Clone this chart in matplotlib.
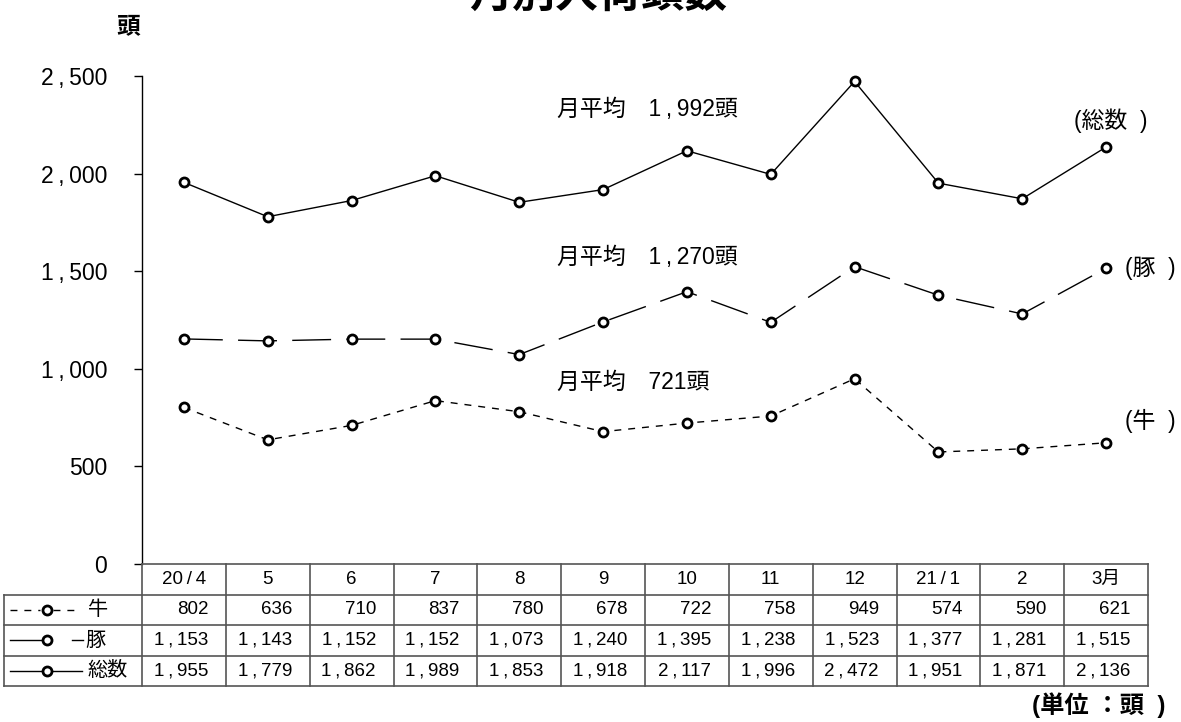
import matplotlib
matplotlib.use("Agg")
import matplotlib.pyplot as plt
from matplotlib.lines import Line2D

plt.rcParams["font.family"] = ["Liberation Sans", "Noto Sans CJK JP"]

months = ["20/4", "5", "6", "7", "8", "9", "10", "11", "12", "21/1", "2", "3月"]
cattle = [802, 636, 710, 837, 780, 678, 722, 758, 949, 574, 590, 621]
pigs = [1153, 1143, 1152, 1152, 1073, 1240, 1395, 1238, 1523, 1377, 1281, 1515]
total = [1955, 1779, 1862, 1989, 1853, 1918, 2117, 1996, 2472, 1951, 1871, 2136]
row_names = ["牛", "豚", "総数"]
averages = [("月平均　1,992頭", 2330), ("月平均　1,270頭", 1570), ("月平均　721頭", 930)]
yticks = [0, 500, 1000, 1500, 2000, 2500]

W, H = 1181, 722
fig = plt.figure(figsize=(W / 100, H / 100), dpi=100)

# pixel layout
x_left, x_right = 142, 1148
y_top, y_axis, y_tbl = 76, 564, 686
col_w = (x_right - x_left) / len(months)


def fx(px):
    return px / W


def fy(py):
    return 1 - py / H


def sp(s):
    # wide comma / slash like the original
    return s.replace(",", "\u2009,\u2009").replace("/", "\u2009/\u2009")


ax = fig.add_axes([fx(x_left), fy(y_axis), fx(x_right - x_left), (y_axis - y_top) / H])
x = list(range(len(months)))
mk = dict(marker="o", ms=6.5, mfc="white", mec="black", mew=2.0, color="black", lw=1.0)
ax.plot(x, cattle, dashes=(5, 5), clip_on=False, **mk)
ax.plot(x, pigs, dashes=(28, 11), clip_on=False, **mk)
ax.plot(x, total, ls="-", clip_on=False, **mk)

ax.set_xlim(-0.5, len(months) - 0.5)
ax.set_ylim(0, 2500)
ax.set_yticks(yticks)
ax.set_yticklabels([sp(f"{v:,}") for v in yticks], fontsize=16.5)
ax.tick_params(axis="y", direction="out", length=6, width=1, pad=19)
ax.set_xticks([])
for s in ["top", "right", "bottom"]:
    ax.spines[s].set_visible(False)
ax.spines["left"].set_linewidth(1.0)

for txt, yv in averages:
    ax.text(4.45, yv, sp(txt), fontsize=16.5, va="center", ha="left")
ax.text(10.62, 2270, "(総数  )", fontsize=16.5, va="center", ha="left")
ax.text(11.22, 1515, "(豚  )", fontsize=16.5, va="center", ha="left")
ax.text(11.22, 735, "(牛  )", fontsize=16.5, va="center", ha="left")

# title (cut off at the top as in the original)
fig.text(fx(598), fy(7), "月別入荷頭数", fontsize=31, fontweight="bold",
         ha="center", va="baseline")
fig.text(fx(128), fy(27), "頭", fontsize=17, fontweight="bold", ha="center", va="center")
fig.text(fx(1166), fy(705), "(単位 ：頭  )", fontsize=17.5, fontweight="bold",
         ha="right", va="center")

# data table below the chart
x_lab = 4
lab_w = (x_left - x_lab) / col_w
tx = fig.add_axes([fx(x_lab), fy(y_tbl), fx(x_right - x_lab), (y_tbl - y_axis) / H])
tx.set_xlim(-0.5 - lab_w, len(months) - 0.5)
tx.set_ylim(4, 0)
tx.axis("off")

grid = dict(color="#555555", lw=1.2)
xl, xr = -0.5 - lab_w, len(months) - 0.5
for r in range(5):
    x0 = -0.5 if r == 0 else xl
    tx.plot([x0, xr], [r, r], clip_on=False, **grid)
for c in range(len(months) + 1):
    tx.plot([c - 0.5, c - 0.5], [0, 4], clip_on=False, **grid)
tx.plot([xl, xl], [1, 4], clip_on=False, **grid)

for i, m in enumerate(months):
    tx.text(i, 0.5, sp(m), ha="center", va="center", fontsize=13.5)
for r, vals in enumerate([cattle, pigs, total], start=1):
    for i, v in enumerate(vals):
        tx.text(i + 0.29, r + 0.5, sp(f"{v:,}"), ha="right", va="center", fontsize=13.5)


def px2x(px):
    return -0.5 - (x_left - px) / col_w


# legend samples in the label column
leg = dict(color="black", lw=1.0)
mkr = dict(marker="o", ms=6.5, mfc="white", mec="black", mew=2.0, ls="none")
tx.add_line(Line2D([px2x(10), px2x(40)], [1.5, 1.5], dashes=(5, 5), **leg))
tx.add_line(Line2D([px2x(53), px2x(80)], [1.5, 1.5], dashes=(5, 5), **leg))
tx.add_line(Line2D([px2x(10), px2x(42)], [2.5, 2.5], **leg))
tx.add_line(Line2D([px2x(72), px2x(83)], [2.5, 2.5], **leg))
tx.add_line(Line2D([px2x(10), px2x(42)], [3.5, 3.5], **leg))
tx.add_line(Line2D([px2x(53), px2x(82)], [3.5, 3.5], **leg))
for r in (1.5, 2.5, 3.5):
    tx.plot([px2x(47)], [r], **mkr)
tx.text(px2x(88), 1.5, row_names[0], ha="left", va="center", fontsize=14.5)
tx.text(px2x(85), 2.5, row_names[1], ha="left", va="center", fontsize=14.5)
tx.text(px2x(87), 3.5, row_names[2], ha="left", va="center", fontsize=14.5)

fig.savefig("out.png", dpi=100)
